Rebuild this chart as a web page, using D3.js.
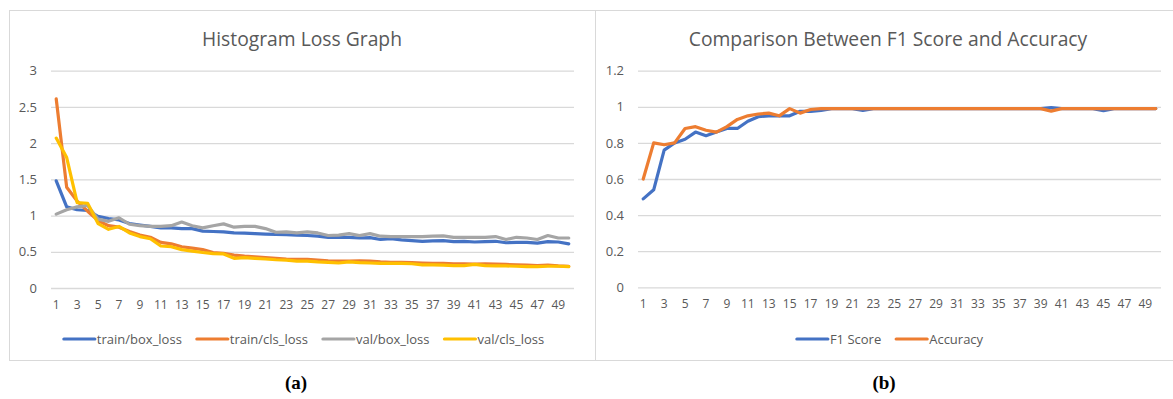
<!DOCTYPE html>
<html>
<head>
<meta charset="utf-8">
<script src="https://cdn.jsdelivr.net/npm/d3@7"></script>
<style>
  html, body { margin: 0; padding: 0; background: #fff; }
  svg { display: block; }
  text { font-family: "Open Sans", "Noto Sans", sans-serif; fill: #595959; }
</style>
</head>
<body>
<svg id="chart" width="1173" height="399"></svg>
<script>
// Epochs 1..50
const epochs = d3.range(1, 51);
const epochTickLabels = epochs.filter(e => e % 2 === 1);

// Loss curves
const trainBoxLoss = [1.48, 1.12, 1.08, 1.07, 0.99, 0.96, 0.94, 0.89, 0.87, 0.85,
  0.83, 0.83, 0.82, 0.82, 0.785, 0.78, 0.775, 0.76, 0.757, 0.75,
  0.745, 0.74, 0.735, 0.73, 0.725, 0.715, 0.70, 0.70, 0.70, 0.69,
  0.695, 0.67, 0.68, 0.665, 0.655, 0.645, 0.65, 0.655, 0.64, 0.645,
  0.635, 0.64, 0.645, 0.625, 0.63, 0.63, 0.62, 0.64, 0.635, 0.61];
const trainClsLoss = [2.61, 1.39, 1.20, 1.06, 0.93, 0.86, 0.84, 0.78, 0.73, 0.70,
  0.63, 0.61, 0.57, 0.55, 0.53, 0.49, 0.48, 0.455, 0.44, 0.43,
  0.42, 0.41, 0.40, 0.395, 0.395, 0.385, 0.375, 0.37, 0.37, 0.375,
  0.37, 0.36, 0.355, 0.355, 0.35, 0.345, 0.34, 0.34, 0.335, 0.335,
  0.33, 0.335, 0.33, 0.325, 0.32, 0.315, 0.31, 0.315, 0.305, 0.30];
const valBoxLoss = [1.02, 1.08, 1.12, 1.14, 0.95, 0.92, 0.97, 0.88, 0.86, 0.85,
  0.85, 0.86, 0.91, 0.86, 0.83, 0.86, 0.885, 0.84, 0.85, 0.85,
  0.82, 0.77, 0.775, 0.76, 0.775, 0.76, 0.725, 0.73, 0.75, 0.725,
  0.75, 0.715, 0.71, 0.71, 0.71, 0.71, 0.715, 0.72, 0.70, 0.70,
  0.70, 0.70, 0.71, 0.67, 0.70, 0.69, 0.67, 0.725, 0.69, 0.69];
const valClsLoss = [2.07, 1.80, 1.18, 1.17, 0.89, 0.81, 0.85, 0.76, 0.71, 0.68,
  0.58, 0.57, 0.53, 0.51, 0.49, 0.475, 0.47, 0.41, 0.42, 0.41,
  0.40, 0.39, 0.385, 0.37, 0.37, 0.36, 0.355, 0.345, 0.36, 0.35,
  0.345, 0.34, 0.34, 0.34, 0.335, 0.32, 0.32, 0.315, 0.31, 0.31,
  0.325, 0.31, 0.305, 0.305, 0.30, 0.295, 0.295, 0.30, 0.30, 0.295];

// Score curves
const f1Score = [0.49, 0.54, 0.76, 0.80, 0.82, 0.86, 0.84, 0.86, 0.88, 0.88,
  0.92, 0.945, 0.95, 0.95, 0.95, 0.975, 0.975, 0.98, 0.99, 0.99,
  0.99, 0.98, 0.99, 0.99, 0.99, 0.99, 0.99, 0.99, 0.99, 0.99,
  0.99, 0.99, 0.99, 0.99, 0.99, 0.99, 0.99, 0.99, 0.99, 0.995,
  0.99, 0.99, 0.99, 0.99, 0.978, 0.99, 0.99, 0.99, 0.99, 0.99];
const accuracy = [0.60, 0.80, 0.79, 0.80, 0.88, 0.89, 0.87, 0.86, 0.89, 0.93,
  0.95, 0.96, 0.965, 0.95, 0.99, 0.965, 0.985, 0.99, 0.99, 0.99,
  0.99, 0.99, 0.99, 0.99, 0.99, 0.99, 0.99, 0.99, 0.99, 0.99,
  0.99, 0.99, 0.99, 0.99, 0.99, 0.99, 0.99, 0.99, 0.99, 0.976,
  0.99, 0.99, 0.99, 0.99, 0.99, 0.99, 0.99, 0.99, 0.99, 0.99];

const lossTicks = [0, 0.5, 1, 1.5, 2, 2.5, 3];
const scoreTicks = [0, 0.2, 0.4, 0.6, 0.8, 1, 1.2];

const lossSeries = [
  { name: "train/box_loss", values: trainBoxLoss, color: "#4472C4" },
  { name: "train/cls_loss", values: trainClsLoss, color: "#ED7D31" },
  { name: "val/box_loss", values: valBoxLoss, color: "#A5A5A5" },
  { name: "val/cls_loss", values: valClsLoss, color: "#FFC000" }
];
const scoreSeries = [
  { name: "F1 Score", values: f1Score, color: "#4472C4" },
  { name: "Accuracy", values: accuracy, color: "#ED7D31" }
];

const svg = d3.select("#chart");

// Panel frames
svg.append("rect").attr("x", 9.5).attr("y", 10.5).attr("width", 586).attr("height", 350)
  .attr("fill", "none").attr("stroke", "#d9d9d9").attr("stroke-width", 1);
svg.append("rect").attr("x", 595.5).attr("y", 10.5).attr("width", 590).attr("height", 350)
  .attr("fill", "none").attr("stroke", "#d9d9d9").attr("stroke-width", 1);

function drawPanel(cfg) {
  const g = svg.append("g");
  const x = d3.scaleBand().domain(epochs).range([cfg.left, cfg.right]);
  const y = d3.scaleLinear().domain([0, cfg.ymax]).range([cfg.bottom, cfg.top]);

  // Title
  g.append("text").attr("x", cfg.titleX).attr("y", 46)
    .attr("text-anchor", "middle").style("font-size", "19.3px")
    .text(cfg.title);

  // Horizontal gridlines
  const yAxis = d3.axisLeft(y).tickValues(cfg.yTicks)
    .tickSize(-(cfg.right - cfg.left)).tickPadding(14)
    .tickFormat(d3.format("~g"));
  const ya = g.append("g").attr("transform", `translate(${cfg.left},0)`).call(yAxis);
  ya.select(".domain").remove();
  ya.selectAll(".tick line").attr("stroke", "#d9d9d9").attr("stroke-width", 1.3);
  ya.selectAll(".tick text").style("font-size", "13px").attr("fill", "#595959")
    .attr("font-family", null);

  // Category axis labels
  const xAxis = d3.axisBottom(x).tickValues(epochTickLabels).tickSize(0).tickPadding(12);
  const xa = g.append("g").attr("transform", `translate(0,${cfg.bottom})`).call(xAxis);
  xa.select(".domain").remove();
  xa.selectAll(".tick text").style("font-size", "12px").attr("fill", "#595959")
    .attr("font-family", null);

  // Series lines
  const line = d3.line()
    .x((d, i) => x(epochs[i]) + x.bandwidth() / 2)
    .y(d => y(d));
  cfg.series.forEach(s => {
    g.append("path").datum(s.values)
      .attr("d", line).attr("fill", "none")
      .attr("stroke", s.color).attr("stroke-width", 3.2)
      .attr("stroke-linejoin", "round").attr("stroke-linecap", "round");
  });

  // Legend
  const lg = g.append("g");
  let cx = 0;
  cfg.series.forEach(s => {
    const item = lg.append("g").attr("transform", `translate(${cx},0)`);
    item.append("line").attr("x1", 0).attr("x2", 31).attr("y1", 0).attr("y2", 0)
      .attr("stroke", s.color).attr("stroke-width", 3.2).attr("stroke-linecap", "round");
    const t = item.append("text").attr("x", 33).attr("y", 4.5)
      .style("font-size", "13px").text(s.name);
    cx += 33 + t.node().getComputedTextLength() + 15;
  });
  const lw = cx - 15;
  lg.attr("transform", `translate(${cfg.legendCenter - lw / 2},${cfg.legendY})`);
}

drawPanel({
  left: 51, right: 574, top: 70.7, bottom: 288, ymax: 3,
  yTicks: lossTicks, series: lossSeries,
  title: "Histogram Loss Graph", titleX: 302,
  legendCenter: 304, legendY: 339
});
drawPanel({
  left: 638, right: 1161, top: 70.7, bottom: 287.3, ymax: 1.2,
  yTicks: scoreTicks, series: scoreSeries,
  title: "Comparison Between F1 Score and Accuracy", titleX: 888,
  legendCenter: 890, legendY: 339
});

// Sub-figure captions
[["(a)", 296], ["(b)", 884]].forEach(([label, cx]) => {
  svg.append("text").attr("x", cx).attr("y", 389).attr("text-anchor", "middle")
    .style("font-family", "'Liberation Serif', 'DejaVu Serif', serif")
    .style("font-weight", "bold").style("font-size", "19px").style("fill", "#000")
    .text(label);
});
</script>
</body>
</html>
